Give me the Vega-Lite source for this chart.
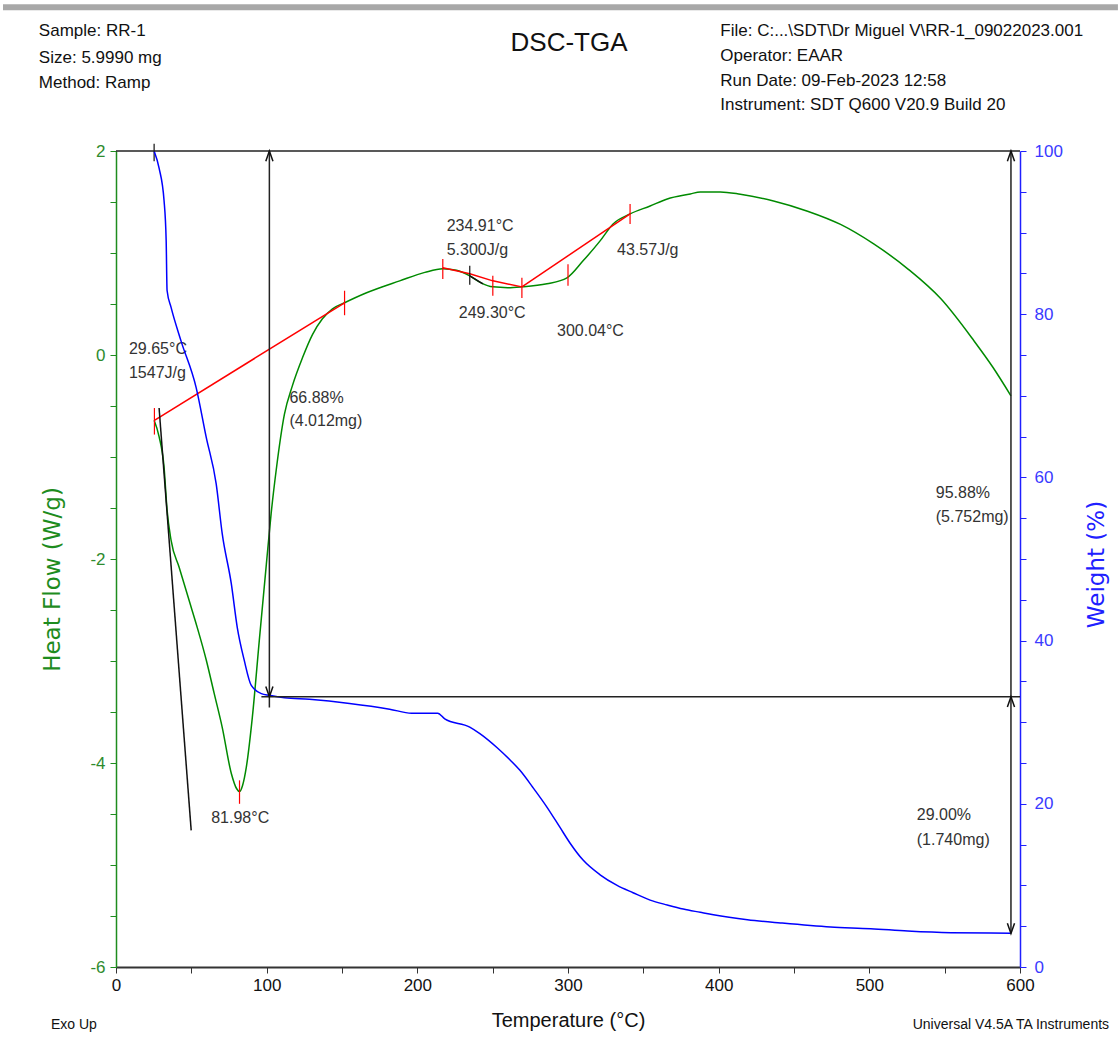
{
  "$schema": "https://vega.github.io/schema/vega-lite/v6.json",
  "autosize": {"type": "none"},
  "padding": {"left": 116, "top": 151, "right": 100, "bottom": 72},
  "width": 904,
  "height": 816,
  "background": "white",
  "config": {
    "view": {"stroke": null},
    "font": "Liberation Sans",
    "text": {"font": "Liberation Sans"}
  },
  "datasets": {
    "dsc": [
      {"t": 25.3, "hf": -0.64}, {"t": 28.6, "hf": -0.80}, {"t": 31.9, "hf": -1.10}, {"t": 33.9, "hf": -1.52},
      {"t": 36.6, "hf": -1.82}, {"t": 41.9, "hf": -2.08}, {"t": 48.6, "hf": -2.41}, {"t": 53.9, "hf": -2.67},
      {"t": 59.9, "hf": -2.99}, {"t": 65.2, "hf": -3.32}, {"t": 70.5, "hf": -3.65}, {"t": 76.5, "hf": -4.10},
      {"t": 80.0, "hf": -4.25}, {"t": 81.98, "hf": -4.28}, {"t": 84.0, "hf": -4.22}, {"t": 86.5, "hf": -4.04},
      {"t": 90.5, "hf": -3.55}, {"t": 95.1, "hf": -2.80}, {"t": 99.8, "hf": -2.05}, {"t": 103.0, "hf": -1.55},
      {"t": 106.4, "hf": -1.12}, {"t": 111.8, "hf": -0.58}, {"t": 117.1, "hf": -0.30}, {"t": 123.7, "hf": -0.03},
      {"t": 130.4, "hf": 0.20}, {"t": 137.0, "hf": 0.355}, {"t": 143.7, "hf": 0.453}, {"t": 151.7, "hf": 0.512},
      {"t": 166.3, "hf": 0.61}, {"t": 188.3, "hf": 0.727}, {"t": 205.0, "hf": 0.81}, {"t": 216.9, "hf": 0.845},
      {"t": 226.0, "hf": 0.83}, {"t": 234.8, "hf": 0.776}, {"t": 242.0, "hf": 0.71}, {"t": 250.1, "hf": 0.668},
      {"t": 260.0, "hf": 0.66}, {"t": 269.4, "hf": 0.668}, {"t": 286.0, "hf": 0.698}, {"t": 299.3, "hf": 0.756},
      {"t": 310.0, "hf": 0.923}, {"t": 321.3, "hf": 1.119}, {"t": 329.9, "hf": 1.285}, {"t": 341.2, "hf": 1.383},
      {"t": 354.5, "hf": 1.461}, {"t": 365.9, "hf": 1.530}, {"t": 381.2, "hf": 1.579}, {"t": 387.8, "hf": 1.599},
      {"t": 401.1, "hf": 1.599}, {"t": 414.4, "hf": 1.576}, {"t": 436.4, "hf": 1.510}, {"t": 459.0, "hf": 1.41},
      {"t": 480.9, "hf": 1.28}, {"t": 502.9, "hf": 1.089}, {"t": 525.5, "hf": 0.845}, {"t": 547.5, "hf": 0.551},
      {"t": 569.4, "hf": 0.140}, {"t": 582.0, "hf": -0.12}, {"t": 594.0, "hf": -0.40}
    ],
    "tga": [
      {"t": 25.3, "w": 100}, {"t": 28.6, "w": 97.9}, {"t": 31.9, "w": 93.9}, {"t": 33.3, "w": 89.0},
      {"t": 33.9, "w": 82.9}, {"t": 36.6, "w": 80.8}, {"t": 43.2, "w": 76.7}, {"t": 53.2, "w": 71.0},
      {"t": 59.9, "w": 64.9}, {"t": 66.5, "w": 59.2}, {"t": 70.5, "w": 53.1}, {"t": 76.5, "w": 47.0},
      {"t": 80.5, "w": 41.6}, {"t": 85.1, "w": 37.6}, {"t": 89.8, "w": 34.5}, {"t": 96.5, "w": 33.5},
      {"t": 101.8, "w": 33.3}, {"t": 111.8, "w": 33.0}, {"t": 128.4, "w": 32.8}, {"t": 155.0, "w": 32.3},
      {"t": 181.6, "w": 31.6}, {"t": 196.2, "w": 31.1}, {"t": 213.5, "w": 31.1}, {"t": 218.2, "w": 30.4},
      {"t": 234.8, "w": 29.4}, {"t": 241.5, "w": 28.6}, {"t": 252.8, "w": 26.9}, {"t": 261.4, "w": 25.4},
      {"t": 268.1, "w": 24.1}, {"t": 276.7, "w": 22.0}, {"t": 286.0, "w": 19.6}, {"t": 294.7, "w": 17.1},
      {"t": 301.3, "w": 15.2}, {"t": 310.0, "w": 13.1}, {"t": 321.3, "w": 11.3}, {"t": 332.6, "w": 10.0},
      {"t": 343.2, "w": 9.1}, {"t": 354.5, "w": 8.2}, {"t": 365.9, "w": 7.6}, {"t": 376.5, "w": 7.1},
      {"t": 387.8, "w": 6.7}, {"t": 396.5, "w": 6.4}, {"t": 419.1, "w": 5.8}, {"t": 441.0, "w": 5.4},
      {"t": 474.3, "w": 4.9}, {"t": 500.9, "w": 4.7}, {"t": 525.5, "w": 4.4}, {"t": 554.1, "w": 4.2},
      {"t": 594.0, "w": 4.15}
    ],
    "red": [
      {"seg": "a", "t": 25.5, "hf": -0.64}, {"seg": "a", "t": 151.7, "hf": 0.512},
      {"seg": "b", "t": 216.9, "hf": 0.855}, {"seg": "b", "t": 234.8, "hf": 0.796},
      {"seg": "b", "t": 250.1, "hf": 0.727}, {"seg": "b", "t": 269.4, "hf": 0.668},
      {"seg": "c", "t": 269.4, "hf": 0.668}, {"seg": "c", "t": 341.2, "hf": 1.383}
    ],
    "redticks": [
      {"t": 25.5, "hf": -0.52, "hf2": -0.78},
      {"t": 151.7, "hf": 0.63, "hf2": 0.39},
      {"t": 81.98, "hf": -4.17, "hf2": -4.40},
      {"t": 216.9, "hf": 0.94, "hf2": 0.745},
      {"t": 250.1, "hf": 0.776, "hf2": 0.58},
      {"t": 269.4, "hf": 0.757, "hf2": 0.56},
      {"t": 300.0, "hf": 0.89, "hf2": 0.678},
      {"t": 341.2, "hf": 1.48, "hf2": 1.285}
    ],
    "black": [
      {"seg": "a", "t": 28.6, "hf": -0.52}, {"seg": "a", "t": 49.9, "hf": -4.66},
      {"seg": "b", "t": 234.8, "hf": 0.776}, {"seg": "b", "t": 243.5, "hf": 0.698}
    ],
    "blackticks": [
      {"t": 234.8, "hf": 0.874, "hf2": 0.688},
      {"t": 25.3, "hf": 2.07, "hf2": 1.90}
    ],
    "wlines": [
      {"t": 0, "t2": 600, "w": 100},
      {"t": 96.5, "t2": 600, "w": 33.12}
    ],
    "warrows": [
      {"t": 101.8, "w": 100, "w2": 31.8},
      {"t": 594.0, "w": 100, "w2": 4.12}
    ],
    "heads": [
      {"t": 101.8, "w": 100, "dir": "up"},
      {"t": 101.8, "w": 33.12, "dir": "down"},
      {"t": 594.0, "w": 100, "dir": "up"},
      {"t": 594.0, "w": 33.12, "dir": "up"},
      {"t": 594.0, "w": 4.12, "dir": "down"}
    ],
    "notes": [
      {"label": "29.65°C", "t": 8.6, "hf": 0.061},
      {"label": "1547J/g", "t": 8.6, "hf": -0.174},
      {"label": "66.88%", "t": 115.1, "hf": -0.419},
      {"label": "(4.012mg)", "t": 115.1, "hf": -0.644},
      {"label": "81.98°C", "t": 63.2, "hf": -4.54},
      {"label": "234.91°C", "t": 219.5, "hf": 1.266},
      {"label": "5.300J/g", "t": 219.5, "hf": 1.031},
      {"label": "249.30°C", "t": 227.5, "hf": 0.414},
      {"label": "300.04°C", "t": 292.7, "hf": 0.237},
      {"label": "43.57J/g", "t": 332.6, "hf": 1.031},
      {"label": "95.88%", "t": 544.1, "hf": -1.349},
      {"label": "(5.752mg)", "t": 544.1, "hf": -1.584},
      {"label": "29.00%", "t": 531.5, "hf": -4.51},
      {"label": "(1.740mg)", "t": 531.5, "hf": -4.757}
    ],
    "header": [
      {"label": "Sample: RR-1", "t": -51.2, "hf": 3.175},
      {"label": "Size:  5.9990 mg", "t": -51.2, "hf": 2.911},
      {"label": "Method: Ramp", "t": -51.2, "hf": 2.666},
      {"label": "File: C:...\\SDT\\Dr Miguel V\\RR-1_09022023.001", "t": 401.1, "hf": 3.175},
      {"label": "Operator: EAAR", "t": 401.1, "hf": 2.93},
      {"label": "Run Date: 09-Feb-2023 12:58", "t": 401.1, "hf": 2.685},
      {"label": "Instrument: SDT Q600 V20.9 Build 20", "t": 401.1, "hf": 2.45}
    ],
    "title": [
      {"label": "DSC-TGA", "t": 300.7, "hf": 3.058}
    ],
    "footer": [
      {"label": "Exo Up", "t": -43.2, "hf": -6.568},
      {"label": "Universal V4.5A TA Instruments", "t": 528.8, "hf": -6.568}
    ],
    "topbar": [
      {"t": -75, "t2": 665, "hf": 3.41}
    ]
  },
  "resolve": {"scale": {"y": "independent"}, "axis": {"y": "independent"}},
  "layer": [
    {
      "layer": [
        {
          "data": {"name": "dsc"},
          "mark": {"type": "line", "color": "#008a00", "strokeWidth": 1.5, "interpolate": "monotone"},
          "encoding": {
            "x": {
              "field": "t", "type": "quantitative",
              "scale": {"domain": [0, 600], "nice": false, "zero": false},
              "axis": {
                "title": "Temperature (°C)",
                "values": [0, 25, 50, 75, 100, 125, 150, 175, 200, 225, 250, 275, 300, 325, 350, 375, 400, 425, 450, 475, 500, 525, 550, 575, 600],
                "labelExpr": "datum.value % 100 === 0 ? '' + datum.value : ''",
                "grid": false,
                "domainColor": "#333333", "domainWidth": 2,
                "tickColor": "#333333", "tickSize": 6, "tickWidth": 1,
                "labelFont": "Liberation Sans",
                "labelFontSize": 17, "labelColor": "#111111", "labelPadding": 4,
                "labelFlush": false, "labelOverlap": false,
                "titleFont": "Liberation Sans",
                "titleFontSize": 20, "titleFontWeight": "normal", "titleColor": "#111111",
                "titlePadding": 17
              }
            },
            "y": {
              "field": "hf", "type": "quantitative",
              "scale": {"domain": [-6, 2], "nice": false, "zero": false},
              "axis": {
                "title": "Heat Flow (W/g)",
                "orient": "left",
                "values": [-6, -5.5, -5, -4.5, -4, -3.5, -3, -2.5, -2, -1.5, -1, -0.5, 0, 0.5, 1, 1.5, 2],
                "labelExpr": "datum.value % 2 === 0 ? '' + datum.value : ''",
                "grid": false,
                "domainColor": "#1e8c1e", "domainWidth": 1.5,
                "tickColor": "#1e8c1e", "tickSize": 6,
                "labelFont": "Liberation Sans",
                "labelFontSize": 17, "labelColor": "#2e8b2e", "labelPadding": 5,
                "labelFlush": false, "labelOverlap": false,
                "titleFont": "DejaVu Sans",
                "titleFontSize": 23, "titleFontWeight": "normal", "titleColor": "#1e8c1e",
                "titleAngle": -90, "titleX": -64, "titleY": 428, "titleBaseline": "middle", "titleAlign": "center"
              }
            }
          }
        },
        {
          "data": {"name": "red"},
          "mark": {"type": "line", "color": "#ff0000", "strokeWidth": 1.5},
          "encoding": {
            "x": {"field": "t", "type": "quantitative"},
            "y": {"field": "hf", "type": "quantitative"},
            "detail": {"field": "seg"}
          }
        },
        {
          "data": {"name": "redticks"},
          "mark": {"type": "rule", "color": "#ff0000", "strokeWidth": 1.2},
          "encoding": {
            "x": {"field": "t", "type": "quantitative"},
            "y": {"field": "hf", "type": "quantitative"},
            "y2": {"field": "hf2"}
          }
        },
        {
          "data": {"name": "black"},
          "mark": {"type": "line", "color": "#111111", "strokeWidth": 1.5},
          "encoding": {
            "x": {"field": "t", "type": "quantitative"},
            "y": {"field": "hf", "type": "quantitative"},
            "detail": {"field": "seg"}
          }
        },
        {
          "data": {"name": "blackticks"},
          "mark": {"type": "rule", "color": "#111111", "strokeWidth": 1.2},
          "encoding": {
            "x": {"field": "t", "type": "quantitative"},
            "y": {"field": "hf", "type": "quantitative"},
            "y2": {"field": "hf2"}
          }
        },
        {
          "data": {"name": "notes"},
          "mark": {"type": "text", "align": "left", "baseline": "middle", "fontSize": 16, "color": "#333333", "font": "Liberation Sans"},
          "encoding": {
            "x": {"field": "t", "type": "quantitative"},
            "y": {"field": "hf", "type": "quantitative"},
            "text": {"field": "label"}
          }
        },
        {
          "data": {"name": "header"},
          "mark": {"type": "text", "align": "left", "baseline": "middle", "fontSize": 17, "color": "#111111", "font": "Liberation Sans"},
          "encoding": {
            "x": {"field": "t", "type": "quantitative"},
            "y": {"field": "hf", "type": "quantitative"},
            "text": {"field": "label"}
          }
        },
        {
          "data": {"name": "title"},
          "mark": {"type": "text", "align": "center", "baseline": "middle", "fontSize": 26, "color": "#111111", "font": "Liberation Sans"},
          "encoding": {
            "x": {"field": "t", "type": "quantitative"},
            "y": {"field": "hf", "type": "quantitative"},
            "text": {"field": "label"}
          }
        },
        {
          "data": {"name": "footer"},
          "mark": {"type": "text", "align": "left", "baseline": "middle", "fontSize": 14, "color": "#111111", "font": "Liberation Sans"},
          "encoding": {
            "x": {"field": "t", "type": "quantitative"},
            "y": {"field": "hf", "type": "quantitative"},
            "text": {"field": "label"}
          }
        },
        {
          "data": {"name": "topbar"},
          "mark": {"type": "rule", "color": "#a8a8a8", "strokeWidth": 6},
          "encoding": {
            "x": {"field": "t", "type": "quantitative"},
            "x2": {"field": "t2"},
            "y": {"field": "hf", "type": "quantitative"}
          }
        }
      ]
    },
    {
      "layer": [
        {
          "data": {"name": "tga"},
          "mark": {"type": "line", "color": "#0000ff", "strokeWidth": 1.5, "interpolate": "monotone"},
          "encoding": {
            "x": {"field": "t", "type": "quantitative"},
            "y": {
              "field": "w", "type": "quantitative",
              "scale": {"domain": [0, 100], "nice": false},
              "axis": {
                "title": "Weight (%)",
                "orient": "right",
                "values": [0, 5, 10, 15, 20, 25, 30, 35, 40, 45, 50, 55, 60, 65, 70, 75, 80, 85, 90, 95, 100],
                "labelExpr": "datum.value % 20 === 0 ? '' + datum.value : ''",
                "grid": false,
                "domainColor": "#2020ff", "domainWidth": 1.5,
                "tickColor": "#2020ff", "tickSize": 6,
                "labelFont": "Liberation Sans",
                "labelFontSize": 17, "labelColor": "#3a3aff", "labelPadding": 8,
                "labelFlush": false, "labelOverlap": false,
                "titleFont": "DejaVu Sans",
                "titleFontSize": 23, "titleFontWeight": "normal", "titleColor": "#2020ff",
                "titleAngle": -90, "titleX": 76, "titleY": 413, "titleBaseline": "middle", "titleAlign": "center"
              }
            }
          }
        },
        {
          "data": {"name": "wlines"},
          "mark": {"type": "rule", "color": "#222222", "strokeWidth": 1.5},
          "encoding": {
            "x": {"field": "t", "type": "quantitative"},
            "x2": {"field": "t2"},
            "y": {"field": "w", "type": "quantitative"}
          }
        },
        {
          "data": {"name": "warrows"},
          "mark": {"type": "rule", "color": "#222222", "strokeWidth": 1.5},
          "encoding": {
            "x": {"field": "t", "type": "quantitative"},
            "y": {"field": "w", "type": "quantitative"},
            "y2": {"field": "w2"}
          }
        },
        {
          "data": {"name": "heads"},
          "mark": {"type": "point", "filled": false, "color": "#111111", "size": 420, "strokeWidth": 1.5, "opacity": 1},
          "encoding": {
            "x": {"field": "t", "type": "quantitative"},
            "y": {"field": "w", "type": "quantitative"},
            "shape": {
              "field": "dir", "type": "nominal",
              "scale": {"domain": ["up", "down"], "range": ["M-0.35,1L0,0L0.35,1", "M-0.35,-1L0,0L0.35,-1"]},
              "legend": null
            }
          }
        }
      ]
    }
  ]
}
